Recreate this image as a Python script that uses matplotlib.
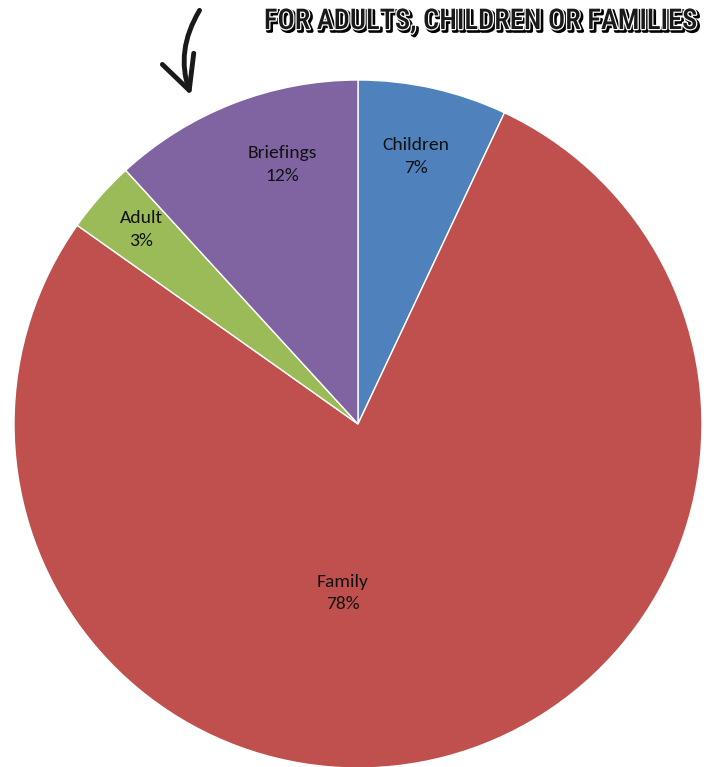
import matplotlib.pyplot as plt
import matplotlib.patheffects as pe
from matplotlib.patches import FancyArrowPatch
from matplotlib import font_manager
import numpy as np

# slice data (clockwise from the top)
labels = ['Children', 'Family', 'Adult', 'Briefings']
values = [7.0, 77.8, 3.4, 11.8]
colors = ['#4F81BD', '#C0504D', '#9BBB59', '#8064A2']
# label radius (fraction of pie radius) and angle shift, Excel best-fit style
label_r = [0.80, 0.49, 0.85, 0.79]
label_shift = [0.5, -20.0, -0.7, -5.0]

title = 'FOR ADULTS, CHILDREN OR FAMILIES'

W, H = 710, 767
cx, cy, R = 358, 424, 344   # pie centre / radius in pixels

names = {f.name for f in font_manager.fontManager.ttflist}

fig = plt.figure(figsize=(W / 100, H / 100), dpi=100)
ax = fig.add_axes([0, 0, 1, 1])

wedges, _ = ax.pie(values, colors=colors, startangle=90, counterclock=False,
                   radius=1.0, wedgeprops=dict(edgecolor='white', linewidth=1))
ax.set_xlim(-cx / R, (W - cx) / R)
ax.set_ylim(-(H - cy) / R, cy / R)
ax.set_aspect('equal')
ax.axis('off')

total = sum(values)
for w, lab, v, r, sh in zip(wedges, labels, values, label_r, label_shift):
    mid = np.deg2rad((w.theta1 + w.theta2) / 2 + sh)
    ax.text(r * np.cos(mid), r * np.sin(mid) - 0.004, '%s\n%.0f%%' % (lab, v / total * 100),
            ha='center', va='center', fontsize=14, family=['Carlito', 'Open Sans', 'DejaVu Sans'],
            linespacing=1.5, color='#111111')

def px(x, y):
    return ((x - cx) / R, (cy - y) / R)

cands = ['Roboto Condensed', 'Liberation Sans Narrow', 'DejaVu Sans Condensed',
         'Open Sans Condensed', 'Roboto']
tfam = [n for n in cands if n in names][0]
t = ax.text(*px(697, 21), title, ha='right', va='center', fontsize=24, fontweight='medium',
            family=tfam, color='#1a1a1a')
t.set_path_effects([pe.SimpleLineShadow(offset=(1.5, -1.5), shadow_color='black', alpha=1, linewidth=2.5),
                    pe.Stroke(linewidth=1.8, foreground='white'),
                    pe.Normal()])
# shrink the title to the width it has in the original
fig.canvas.draw()
wpx = t.get_window_extent().width
t.set_fontsize(24 * 434 / wpx)

arrow = FancyArrowPatch(px(201, 8), px(192, 98), connectionstyle='arc3,rad=0.25',
                        arrowstyle='->,head_length=8,head_width=4', linewidth=3.5,
                        color='#1a1a1a', mutation_scale=3)
ax.add_patch(arrow)

fig.savefig('out.png', dpi=100)
